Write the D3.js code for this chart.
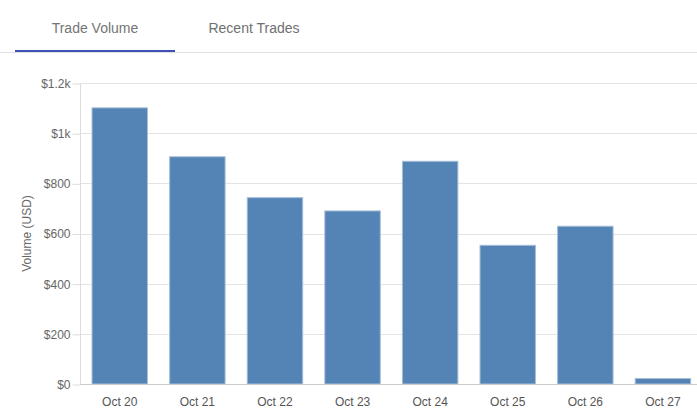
<!DOCTYPE html>
<html>
<head>
<meta charset="utf-8">
<script src="https://cdn.jsdelivr.net/npm/d3@7"></script>
<style>
  html, body { margin: 0; padding: 0; background: #fff; }
  svg { display: block; font-family: "Liberation Sans", Arial, sans-serif; }
</style>
</head>
<body>
<svg id="chart" width="697" height="418"></svg>
<script>
const tabs = ["Trade Volume", "Recent Trades"];
const categories = ["Oct 20", "Oct 21", "Oct 22", "Oct 23", "Oct 24", "Oct 25", "Oct 26", "Oct 27"];
const volumes = [1101, 906, 743, 690, 888, 553, 629, 22];
const yTickValues = [0, 200, 400, 600, 800, 1000, 1200];
const yTickLabels = ["$0", "$200", "$400", "$600", "$800", "$1k", "$1.2k"];
const yTitle = "Volume (USD)";

const svg = d3.select("#chart");

// Tabs
const tabCenters = [95, 254];
svg.append("line").attr("x1", 0).attr("x2", 697).attr("y1", 52.5).attr("y2", 52.5)
  .attr("stroke", "#e0e0e0").attr("stroke-width", 1);
svg.append("rect").attr("x", 15).attr("y", 50).attr("width", 160).attr("height", 2)
  .attr("fill", "#3f51b5");
svg.selectAll("text.tab").data(tabs).join("text")
  .attr("class", "tab")
  .attr("x", (d, i) => tabCenters[i]).attr("y", 33)
  .attr("text-anchor", "middle")
  .attr("font-size", 14)
  .attr("fill", (d, i) => i === 0 ? "#757575" : "#707070")
  .text(d => d);

// Scales
const x = d3.scaleBand().domain(categories).range([80, 702.7])
  .paddingInner(0.285).paddingOuter(0.155);
const y = d3.scaleLinear().domain([0, 1200]).range([384, 83]);

// Grid
svg.append("g").selectAll("line").data(yTickValues.slice(1)).join("line")
  .attr("x1", 80).attr("x2", 697)
  .attr("y1", d => Math.round(y(d)) + 0.5).attr("y2", d => Math.round(y(d)) + 0.5)
  .attr("stroke", "#e3e3e3");

// Y axis
const yAxis = d3.axisLeft(y).tickValues(yTickValues)
  .tickFormat((d, i) => yTickLabels[i]).tickSize(8).tickPadding(2);
const gy = svg.append("g").attr("transform", "translate(80.5,0.5)").call(yAxis);
gy.select(".domain").attr("stroke", "#dddddd").attr("d", `M0,${y(1200)}V${y(0)}`);
gy.selectAll(".tick line").attr("stroke", "#dddddd");
gy.selectAll(".tick text").attr("fill", "#666").attr("font-size", 12)
  .attr("font-family", "Liberation Sans, Arial, sans-serif");

// Bars
svg.append("g").selectAll("rect").data(categories).join("rect")
  .attr("x", d => x(d))
  .attr("y", (d, i) => y(volumes[i]))
  .attr("width", x.bandwidth())
  .attr("height", (d, i) => y(0) - y(volumes[i]))
  .attr("fill", "#5484b6")
  .attr("stroke", "#a9bfd8").attr("stroke-width", 1);

// X axis
const xAxis = d3.axisBottom(x).tickSize(0).tickPadding(13);
const gx = svg.append("g").attr("transform", `translate(0,${Math.round(y(0)) + 0.5})`).call(xAxis);
gx.select(".domain").attr("stroke", "#cccccc").attr("d", "M80,0H697");
gx.selectAll(".tick text").attr("fill", "#555").attr("font-size", 12)
  .attr("font-family", "Liberation Sans, Arial, sans-serif");

// Y title
svg.append("text")
  .attr("transform", `translate(31,${(y(0) + y(1200)) / 2}) rotate(-90)`)
  .attr("text-anchor", "middle")
  .attr("font-size", 12).attr("fill", "#666")
  .text(yTitle);
</script>
</body>
</html>
